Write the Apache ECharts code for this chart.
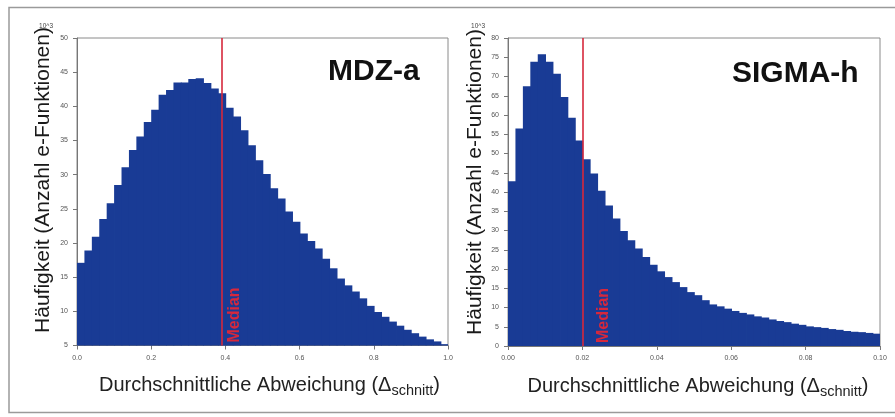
<!DOCTYPE html>
<html>
<head>
<meta charset="utf-8">
<script src="https://cdn.jsdelivr.net/npm/echarts@6/dist/echarts.min.js"></script>
<style>
  html, body { margin: 0; padding: 0; background: #fff; }
  #chart { width: 895px; height: 417px; }
</style>
</head>
<body>
<div id="chart"></div>
<script>
// ---- Data (counts in units of 10^3) ----
const leftTitle = 'MDZ-a';
const rightTitle = 'SIGMA-h';
const leftBinWidth = 0.02;   // bins 0.00 .. 1.00
const rightBinWidth = 0.002; // bins 0.000 .. 0.100
const leftCounts = [17.1, 18.9, 20.9, 23.5, 25.8, 28.5, 31.1, 33.6, 35.6, 37.7,
                    39.5, 41.7, 42.4, 43.5, 43.5, 44.0, 44.1, 43.4, 42.6, 41.9,
                    39.8, 38.5, 36.5, 34.3, 32.1, 30.1, 28.0, 26.5, 24.6, 23.1,
                    21.4, 20.3, 19.2, 17.7, 16.3, 14.8, 13.8, 12.9, 11.9, 10.8,
                    9.9, 9.2, 8.5, 7.9, 7.3, 6.8, 6.3, 5.9, 5.6, 5.2];
const rightCounts = [42.8, 56.5, 67.5, 73.8, 75.8, 73.8, 70.7, 64.7, 59.3, 53.4,
                     48.5, 44.8, 40.3, 36.5, 33.1, 29.9, 27.5, 25.3, 23.1, 21.1,
                     19.4, 17.9, 16.6, 15.3, 14.0, 13.2, 11.9, 10.8, 10.3, 9.7,
                     9.1, 8.6, 8.2, 7.7, 7.4, 6.9, 6.5, 6.2, 5.8, 5.5,
                     5.1, 4.9, 4.7, 4.4, 4.2, 3.9, 3.7, 3.6, 3.4, 3.2];
const leftMedian = 0.39;
const rightMedian = 0.0215;
const leftYRange = [5, 50, 5];
const rightYRange = [0, 80, 5];
const leftXRange = [0, 1, 0.2];
const rightXRange = [0, 0.1, 0.02];
const yAxisTitle = 'Häufigkeit (Anzahl e-Funktionen)';
const unitLabel = '10^3';

// ---- Styles ----
const FONT = 'Liberation Sans, Arial, Helvetica, sans-serif';
const BAR = '#193b95';
const RED = '#d6283c';

function bins(counts, w) {
  return counts.map((v, i) => [i * w, (i + 1) * w, v]);
}
function barRenderer(base) {
  return function (params, api) {
    const p0 = api.coord([api.value(0), api.value(2)]);
    const p1 = api.coord([api.value(1), base]);
    const last = params.dataIndex === params.dataInsideLength - 1;
    return {
      type: 'rect',
      shape: { x: p0[0], y: p0[1], width: p1[0] - p0[0] + (last ? 0 : 0.8), height: p1[1] - p0[1] },
      style: { fill: BAR }
    };
  };
}
function xName(shift) {
  return {
    name: '{a|Durchschnittliche Abweichung (Δ}{b|schnitt}{a|)}',
    nameLocation: 'middle',
    nameGap: 27,
    nameTextStyle: {
      padding: [0, 0, 0, shift],
      rich: {
        a: { fontSize: 20, fontFamily: FONT, color: '#222', lineHeight: 26 },
        b: { fontSize: 14.5, fontFamily: FONT, color: '#222', verticalAlign: 'bottom', lineHeight: 12 }
      }
    }
  };
}
function xAxis(grid, r, digits, shift) {
  return Object.assign({
    type: 'value', gridIndex: grid, min: r[0], max: r[1], interval: r[2],
    axisLine: { lineStyle: { color: '#777', width: 1 } },
    axisTick: { show: true, length: 4, lineStyle: { color: '#777' } },
    axisLabel: { fontSize: 7, fontFamily: FONT, color: '#555', margin: 9,
                 formatter: v => v.toFixed(digits) },
    splitLine: { show: false }
  }, xName(shift));
}
function yAxis(grid, r) {
  return {
    type: 'value', gridIndex: grid, min: r[0], max: r[1], interval: r[2],
    axisLine: { show: true, lineStyle: { color: '#777', width: 1 } },
    axisTick: { show: true, length: 4, lineStyle: { color: '#777' } },
    axisLabel: { fontSize: 7, fontFamily: FONT, color: '#555', margin: 9 },
    splitLine: { show: false }
  };
}
function medianLine(v) {
  return {
    silent: true, symbol: 'none',
    lineStyle: { color: RED, width: 1.6, type: 'solid' },
    label: { show: false },
    data: [{ xAxis: v }]
  };
}

const chart = echarts.init(document.getElementById('chart'), null, { renderer: 'canvas' });
const gridBox = { show: true, borderColor: '#8a8a8a', borderWidth: 1, backgroundColor: 'transparent' };

chart.setOption({
  animation: false,
  backgroundColor: '#fff',
  grid: [
    Object.assign({ left: 77, top: 38, width: 371, height: 307.5 }, gridBox),
    Object.assign({ left: 508, top: 38, width: 372, height: 308 }, gridBox)
  ],
  xAxis: [xAxis(0, leftXRange, 1, 14), xAxis(1, rightXRange, 2, 8)],
  yAxis: [yAxis(0, leftYRange), yAxis(1, rightYRange)],
  series: [
    { type: 'custom', xAxisIndex: 0, yAxisIndex: 0, renderItem: barRenderer(leftYRange[0]),
      encode: { x: [0, 1], y: 2 }, data: bins(leftCounts, leftBinWidth), markLine: medianLine(leftMedian) },
    { type: 'custom', xAxisIndex: 1, yAxisIndex: 1, renderItem: barRenderer(rightYRange[0]),
      encode: { x: [0, 1], y: 2 }, data: bins(rightCounts, rightBinWidth), markLine: medianLine(rightMedian) }
  ]
});

// Texts that belong to the layout
const lBase = chart.convertToPixel({ gridIndex: 0 }, [leftMedian, leftYRange[0]]);
const rBase = chart.convertToPixel({ gridIndex: 1 }, [rightMedian, rightYRange[0]]);
function txt(x, y, text, opts) {
  return Object.assign({ type: 'text', x: x, y: y, silent: true, z: 100,
    style: Object.assign({ text: text, fontFamily: FONT, fill: '#1a1a1a' }, opts.style) },
    opts.extra || {});
}
const medianStyle = { fontSize: 16, fontWeight: 'bold', fill: RED, textAlign: 'left', textVerticalAlign: 'top', align: 'left', verticalAlign: 'top' };
chart.setOption({
  graphic: [
    { type: 'rect', silent: true, z: 100, shape: { x: 9, y: 7.5, width: 900, height: 405 },
      style: { fill: 'none', stroke: '#9a9a9a', lineWidth: 1.5 } },
    txt(43, 180, yAxisTitle, { style: { fontSize: 21, textAlign: 'center', textVerticalAlign: 'middle', align: 'center', verticalAlign: 'middle' }, extra: { rotation: Math.PI / 2 } }),
    txt(475, 182, yAxisTitle, { style: { fontSize: 21, textAlign: 'center', textVerticalAlign: 'middle', align: 'center', verticalAlign: 'middle' }, extra: { rotation: Math.PI / 2 } }),
    txt(53, 26, unitLabel, { style: { fontSize: 6.5, fill: '#444', textAlign: 'right', textVerticalAlign: 'middle', align: 'right', verticalAlign: 'middle' } }),
    txt(485, 26, unitLabel, { style: { fontSize: 6.5, fill: '#444', textAlign: 'right', textVerticalAlign: 'middle', align: 'right', verticalAlign: 'middle' } }),
    txt(328, 87, leftTitle, { style: { fontSize: 30, fontWeight: 'bold', fill: '#111', textAlign: 'left', textVerticalAlign: 'bottom', align: 'left', verticalAlign: 'bottom' } }),
    txt(732, 89, rightTitle, { style: { fontSize: 30, fontWeight: 'bold', fill: '#111', textAlign: 'left', textVerticalAlign: 'bottom', align: 'left', verticalAlign: 'bottom' } }),
    txt(lBase[0] + 5, lBase[1] - 3, 'Median', { style: medianStyle, extra: { rotation: Math.PI / 2 } }),
    txt(rBase[0] + 8, rBase[1] - 3, 'Median', { style: medianStyle, extra: { rotation: Math.PI / 2 } })
  ]
});
</script>
</body>
</html>
